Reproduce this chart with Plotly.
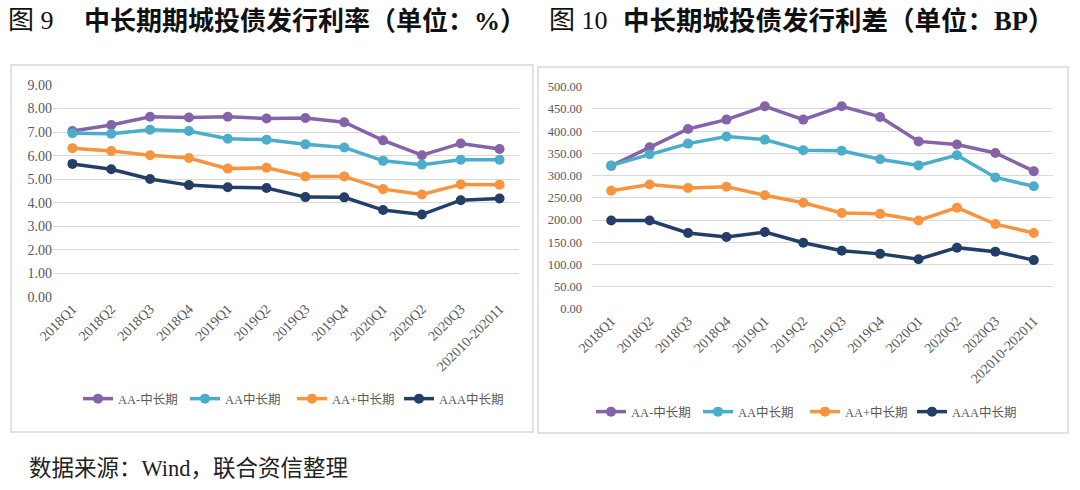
import plotly.graph_objects as go

W, H = 1080, 490

categories = ["2018Q1", "2018Q2", "2018Q3", "2018Q4", "2019Q1", "2019Q2",
              "2019Q3", "2019Q4", "2020Q1", "2020Q2", "2020Q3", "202010-202011"]

series_names = ["AA-中长期", "AA中长期", "AA+中长期", "AAA中长期"]
colors = ["#8463A9", "#4BADC9", "#F9943E", "#233F68"]

# Figure 9: issuance rate (%)
rate_aa_minus = [7.05, 7.30, 7.65, 7.62, 7.65, 7.58, 7.60, 7.42, 6.65, 6.02, 6.52, 6.28]
rate_aa       = [6.95, 6.93, 7.10, 7.05, 6.72, 6.68, 6.48, 6.35, 5.78, 5.62, 5.83, 5.83]
rate_aa_plus  = [6.32, 6.20, 6.02, 5.90, 5.45, 5.49, 5.12, 5.12, 4.58, 4.35, 4.78, 4.77]
rate_aaa      = [5.65, 5.42, 5.01, 4.75, 4.66, 4.63, 4.24, 4.23, 3.69, 3.50, 4.11, 4.18]

# Figure 10: issuance spread (BP)
spread_aa_minus = [322, 364, 405, 426, 456, 426, 456, 432, 377, 370, 351, 310]
spread_aa       = [323, 348, 372, 388, 381, 357, 356, 337, 323, 346, 296, 276]
spread_aa_plus  = [266, 280, 272, 275, 256, 239, 216, 214, 199, 228, 191, 171]
spread_aaa      = [199, 199, 171, 162, 173, 149, 131, 124, 112, 138, 129, 110]

left_tickvals = [0, 1, 2, 3, 4, 5, 6, 7, 8, 9]
right_tickvals = [0, 50, 100, 150, 200, 250, 300, 350, 400, 450, 500]

title_left_no = "图 9"
title_left = "中长期期城投债发行利率（单位：%）"
title_right_no = "图 10"
title_right = "中长期城投债发行利差（单位：BP）"
source_text = "数据来源：Wind，联合资信整理"


def px_x(p):
    return p / W


def px_y(p):
    return 1 - p / H


fig = go.Figure()

left_data = [rate_aa_minus, rate_aa, rate_aa_plus, rate_aaa]
right_data = [spread_aa_minus, spread_aa, spread_aa_plus, spread_aaa]

for name, vals, c in zip(series_names, left_data, colors):
    fig.add_trace(go.Scatter(
        x=categories, y=vals, name=name, mode="lines+markers",
        line=dict(color=c, width=3.5), marker=dict(color=c, size=10),
        xaxis="x", yaxis="y", legend="legend"))

for name, vals, c in zip(series_names, right_data, colors):
    fig.add_trace(go.Scatter(
        x=categories, y=vals, name=name, mode="lines+markers",
        line=dict(color=c, width=3.5), marker=dict(color=c, size=10),
        xaxis="x2", yaxis="y2", legend="legend2"))

serif_cjk = "Liberation Serif, Noto Sans CJK SC"
xtick_font = dict(family=serif_cjk, size=14, color="#595959")
ytick_font_l = dict(family=serif_cjk, size=14, color="#595959")
ytick_font_r = dict(family=serif_cjk, size=12.5, color="#595959")
legend_font = dict(family=serif_cjk, size=12.5, color="#595959")
title_font = dict(family=serif_cjk, size=26, color="#111111", weight="bold")
title_font_r = dict(family=serif_cjk, size=26.5, color="#111111", weight="bold")
title_no_font = dict(family=serif_cjk, size=26, color="#111111")

common_x = dict(type="category", range=[-0.5, 11.5], tickangle=-45,
                showgrid=False, zeroline=False, showline=False, ticks="",
                fixedrange=True, automargin=False, tickfont=xtick_font)
common_y = dict(showgrid=True, gridcolor="#D9D9D9", gridwidth=1, zeroline=False,
                showline=False, ticks="", fixedrange=True, automargin=False,
                tickformat=".2f")

fig.update_layout(
    template="none",
    width=W, height=H,
    margin=dict(l=0, r=0, t=0, b=0, pad=0, autoexpand=False),
    paper_bgcolor="white", plot_bgcolor="white",
    xaxis=dict(domain=[px_x(53), px_x(519)], anchor="y", **common_x),
    yaxis=dict(domain=[px_y(297), px_y(85)], anchor="x", range=[0, 9],
               tickvals=left_tickvals, tickfont=ytick_font_l, **common_y),
    xaxis2=dict(domain=[px_x(592), px_x(1053)], anchor="y2", **common_x),
    yaxis2=dict(domain=[px_y(309), px_y(86.7)], anchor="x2", range=[0, 500],
                tickvals=right_tickvals, tickfont=ytick_font_r, ticklabelstandoff=9,
                **common_y),
    legend=dict(orientation="h", x=px_x(78), y=px_y(399), xanchor="left", yanchor="middle",
                font=legend_font, entrywidth=62, entrywidthmode="pixels",
                itemwidth=30, bgcolor="rgba(0,0,0,0)", tracegroupgap=0),
    legend2=dict(orientation="h", x=px_x(591), y=px_y(412), xanchor="left", yanchor="middle",
                 font=legend_font, entrywidth=62, entrywidthmode="pixels",
                 itemwidth=30, bgcolor="rgba(0,0,0,0)", tracegroupgap=0),
    showlegend=True,
    shapes=[
        dict(type="rect", xref="paper", yref="paper",
             x0=px_x(11), x1=px_x(533), y0=px_y(432), y1=px_y(65),
             line=dict(color="#D9D9D9", width=1.5), fillcolor="rgba(0,0,0,0)", layer="below"),
        dict(type="rect", xref="paper", yref="paper",
             x0=px_x(538), x1=px_x(1068), y0=px_y(433), y1=px_y(67),
             line=dict(color="#D9D9D9", width=1.5), fillcolor="rgba(0,0,0,0)", layer="below"),
    ],
    annotations=[
        dict(text=title_left_no, xref="paper", yref="paper", x=px_x(6), y=px_y(21),
             xanchor="left", yanchor="middle", showarrow=False, font=title_no_font),
        dict(text=title_left, xref="paper", yref="paper", x=px_x(82), y=px_y(21),
             xanchor="left", yanchor="middle", showarrow=False, font=title_font),
        dict(text=title_right_no, xref="paper", yref="paper", x=px_x(547), y=px_y(21),
             xanchor="left", yanchor="middle", showarrow=False, font=title_no_font),
        dict(text=title_right, xref="paper", yref="paper", x=px_x(621), y=px_y(21),
             xanchor="left", yanchor="middle", showarrow=False, font=title_font_r),
        dict(text=source_text, xref="paper", yref="paper", x=px_x(27), y=px_y(468),
             xanchor="left", yanchor="middle", showarrow=False,
             font=dict(family=serif_cjk, size=22.5, color="#222222")),
    ],
)

fig.write_html("out.html")
